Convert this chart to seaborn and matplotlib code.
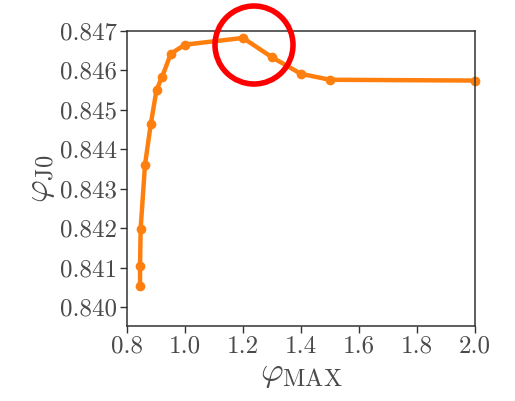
import matplotlib
matplotlib.use("Agg")
import matplotlib.pyplot as plt
from matplotlib.patches import Ellipse
import seaborn as sns
import pandas as pd

# Jamming density phi_J0 as a function of phi_MAX
phi_max = [0.845, 0.845, 0.847, 0.862, 0.882, 0.902, 0.921, 0.951, 1.0, 1.2, 1.3, 1.4, 1.5, 2.0]
phi_j0 = [0.84053, 0.84105, 0.84198, 0.84360, 0.84464, 0.84551, 0.84583,
          0.84642, 0.84665, 0.84682, 0.84633, 0.84591, 0.84576, 0.84574]
x_ticks = [0.8, 1.0, 1.2, 1.4, 1.6, 1.8, 2.0]
y_ticks = [0.840, 0.841, 0.842, 0.843, 0.844, 0.845, 0.846, 0.847]

df = pd.DataFrame({"phi_max": phi_max, "phi_j0": phi_j0})

sns.set_style("ticks")
plt.rcParams["font.family"] = ["cmr10", "DejaVu Serif"]
plt.rcParams["mathtext.fontset"] = "cm"
plt.rcParams["axes.formatter.use_mathtext"] = True

fig = plt.figure(figsize=(5.15, 4.01), dpi=100)
ax = fig.add_axes([0.2466, 0.187, 0.6757, 0.7361])

sns.lineplot(data=df, x="phi_max", y="phi_j0", ax=ax, color="#ff7f0e",
             estimator=None, sort=False, marker="o", markersize=7,
             markeredgewidth=0, linewidth=3.2, clip_on=False)

ax.set_xlim(0.8, 2.0)
ax.set_ylim(0.83952, 0.847)
ax.set_xticks(x_ticks)
ax.set_xticklabels([f"{v:.1f}" for v in x_ticks])
ax.set_yticks(y_ticks)
ax.set_yticklabels([f"{v:.3f}" for v in y_ticks])
ax.tick_params(direction="out", length=5, width=1, labelsize=18, pad=2,
               colors="#333333", labelcolor="#4a4a4a")
for s in ax.spines.values():
    s.set_visible(True)
    s.set_linewidth(1.1)
    s.set_color("#333333")

ax.set_xlabel(r"$\varphi_{\rm MAX}$", fontsize=25, color="#4a4a4a", labelpad=0)
ax.set_ylabel(r"$\varphi_{\rm J0}$", fontsize=25, color="#4a4a4a", labelpad=2)

# highlight around the peak
fig.patches.append(Ellipse((254 / 515, 1 - 45 / 401), 78 / 515, 78 / 401,
                           transform=fig.transFigure, fill=False,
                           edgecolor="#ff0000", linewidth=4))

fig.savefig("out.png", dpi=100)
